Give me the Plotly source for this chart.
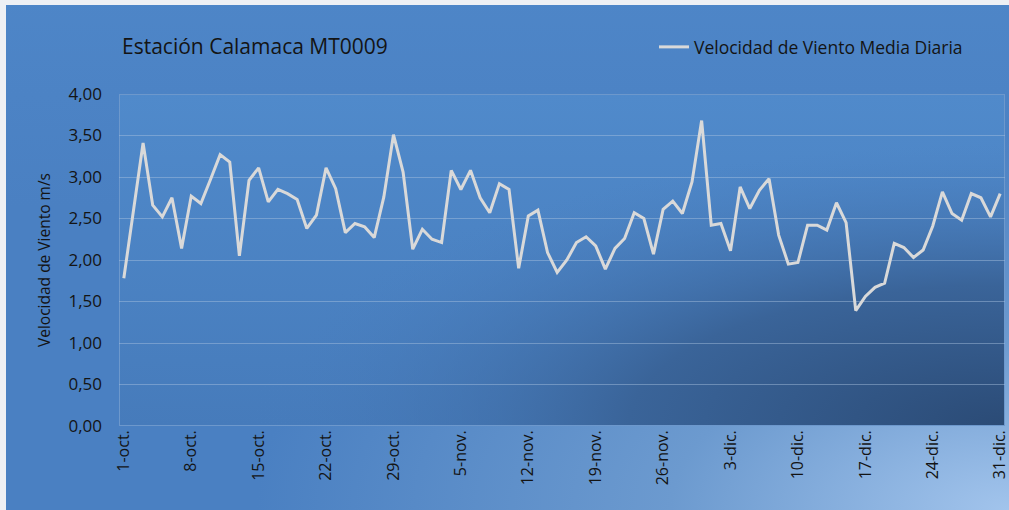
import plotly.graph_objects as go
import urllib.parse

# ---- data ----
dates = [f"{d}-oct." for d in range(1, 32)] + [f"{d}-nov." for d in range(1, 31)] + [f"{d}-dic." for d in range(1, 32)]
velocidad = [
    1.78, 2.60, 3.41, 2.66, 2.52, 2.75, 2.14, 2.77, 2.68, 2.97,
    3.27, 3.18, 2.05, 2.96, 3.11, 2.70, 2.85, 2.80, 2.73, 2.38,
    2.54, 3.11, 2.86, 2.33, 2.44, 2.40, 2.27, 2.76, 3.51, 3.06,
    2.13, 2.37, 2.25, 2.21, 3.08, 2.85, 3.08, 2.75, 2.57, 2.92,
    2.85, 1.90, 2.53, 2.60, 2.09, 1.85, 2.00, 2.21, 2.28, 2.17,
    1.89, 2.14, 2.26, 2.57, 2.50, 2.07, 2.61, 2.71, 2.56, 2.94,
    3.68, 2.42, 2.44, 2.11, 2.88, 2.62, 2.84, 2.98, 2.30, 1.95,
    1.97, 2.42, 2.42, 2.36, 2.69, 2.45, 1.39, 1.56, 1.67, 1.72,
    2.20, 2.15, 2.03, 2.12, 2.41, 2.82, 2.56, 2.48, 2.80, 2.75,
    2.52, 2.80,
]
tick_step = 7
series_name = "Velocidad de Viento Media Diaria"
title_text = "Estación Calamaca MT0009"
y_title = "Velocidad de Viento m/s"

idx = list(range(len(dates)))
tickvals = idx[::tick_step]
ticktext = [dates[i] for i in tickvals]

W, H = 1009, 510
ml, mr, mt, mb = 119, 4, 94, 84
pw = W - ml - mr
ph = H - mt - mb


def svg_uri(svg):
    return "data:image/svg+xml;charset=utf-8," + urllib.parse.quote(svg)


paper_svg = (
    "<svg xmlns='http://www.w3.org/2000/svg' width='1003' height='505' preserveAspectRatio='none'>"
    "<defs><radialGradient id='g' cx='1' cy='1' r='0.75' fx='1' fy='1'>"
    "<stop offset='0' stop-color='#A2C4EC'/>"
    "<stop offset='0.45' stop-color='#6C9ACF'/>"
    "<stop offset='1' stop-color='#4A80C2'/>"
    "</radialGradient>"
    "<linearGradient id='t' x1='0' y1='0' x2='0' y2='1'>"
    "<stop offset='0' stop-color='#5089CB' stop-opacity='0.6'/>"
    "<stop offset='0.4' stop-color='#5089CB' stop-opacity='0'/>"
    "</linearGradient></defs>"
    "<rect width='1003' height='505' fill='url(#g)'/>"
    "<rect width='1003' height='505' fill='url(#t)'/>"
    "</svg>"
)

plot_svg = (
    "<svg xmlns='http://www.w3.org/2000/svg' width='886' height='332' preserveAspectRatio='none'>"
    "<defs><radialGradient id='d' cx='1' cy='1' r='0.85' fx='1' fy='1'>"
    "<stop offset='0' stop-color='#2B4B76'/>"
    "<stop offset='0.5' stop-color='#3A6499'/>"
    "<stop offset='1' stop-color='#4A7FC0' stop-opacity='0'/>"
    "</radialGradient>"
    "<linearGradient id='v' x1='0' y1='0' x2='0' y2='1'>"
    "<stop offset='0' stop-color='#508ACB'/>"
    "<stop offset='1' stop-color='#467BBB'/>"
    "</linearGradient></defs>"
    "<rect width='886' height='332' fill='url(#v)'/>"
    "<rect width='886' height='332' fill='url(#d)'/>"
    "<rect x='0.5' y='0.5' width='885' height='331' fill='none' stroke='#6D98CC' stroke-width='1'/>"
    "</svg>"
)

fig = go.Figure()
fig.add_trace(go.Scatter(
    x=idx, y=velocidad, mode="lines", name=series_name,
    line=dict(color="#D9D9D9", width=3),
))

FONT = "'Open Sans', Lato, sans-serif"
fig.update_layout(
    width=W, height=H,
    margin=dict(l=ml, r=mr, t=mt, b=mb, autoexpand=False),
    paper_bgcolor="#EEF0F4",
    plot_bgcolor="rgba(0,0,0,0)",
    separators=",.",
    font=dict(family=FONT, color="#141414"),
    title=dict(text=title_text, x=122 / W, xanchor="left", xref="container",
               y=1 - 47 / H, yanchor="middle", yref="container",
               font=dict(size=21, color="#141414")),
    showlegend=True,
    legend=dict(x=(654 - ml) / pw, xanchor="left",
                y=(H - mb - 47) / ph, yanchor="middle", bgcolor="rgba(0,0,0,0)",
                font=dict(size=17.5, color="#141414"), itemwidth=30),
    images=[
        dict(source=svg_uri(paper_svg), xref="paper", yref="paper",
             x=(6 - ml) / pw, y=(H - mb - 5) / ph, sizex=1003 / pw, sizey=505 / ph,
             xanchor="left", yanchor="top", sizing="stretch", layer="below"),
        dict(source=svg_uri(plot_svg), xref="paper", yref="paper",
             x=0, y=1, sizex=1, sizey=1,
             xanchor="left", yanchor="top", sizing="stretch", layer="below"),
    ],
)

fig.update_xaxes(
    range=[-0.5, len(dates) - 0.5],
    tickmode="array", tickvals=tickvals, ticktext=ticktext,
    tickangle=-90, tickfont=dict(size=16, color="#141414"),
    ticklabeloverflow="allow",
    showgrid=False, zeroline=False, showline=False, ticks="",
)
fig.update_yaxes(
    range=[0, 4], dtick=0.5, tickformat=".2f",
    tickfont=dict(size=17, color="#141414"),
    ticklabelstandoff=16,
    showgrid=True, gridcolor="rgba(170,195,225,0.45)", gridwidth=1,
    zeroline=False, showline=False, ticks="", ticklen=0,
    title=dict(text=y_title, font=dict(size=15.5, color="#141414"), standoff=14),
)

fig.write_html("out.html", config={"displayModeBar": False},
               post_script="document.body.style.margin='0';document.body.style.overflow='hidden';")
